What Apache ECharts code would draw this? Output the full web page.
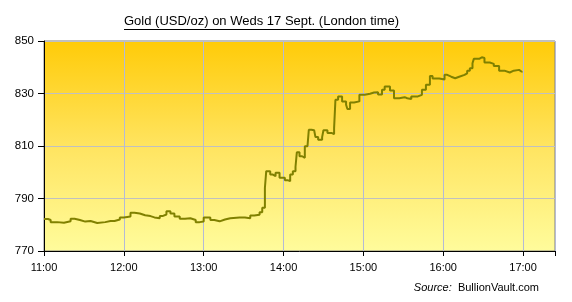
<!DOCTYPE html>
<html>
<head>
<meta charset="utf-8">
<script src="https://cdn.jsdelivr.net/npm/echarts@6/dist/echarts.min.js"></script>
<style>html,body{margin:0;padding:0;background:#fff}#c{width:572px;height:302px}</style>
</head>
<body>
<div id="c"></div>
<script>
// minutes after 11:00 (London time)
const minutes = [0,3,5,10,15,20,23,27,31,35,40,46,50,53,57,60,65,68,72,76,80,83,87,89,92,95,98,102,106,110,114,117,120,125,128,132,136,140,147,151,155,158,162,164,166,167,170,172,174,177,181,183,185,187,189,190,192,194,196,198,199,201,203,204,206,209,210,213,216,218,219,221,224,227,228,230,233,237,241,245,248,251,254,256,260,263,267,271,273,276,281,284,287,290,292,297,301,303,306,309,312,316,318,320,322,323,327,329,331,335,338,342,346,347,350,353,357,359];
const prices = [782.2,781.8,781.0,780.8,781.3,782.3,781.8,781.2,781.4,780.7,781.0,781.4,781.4,782.0,782.8,783.1,784.6,784.3,783.6,783.3,782.8,782.5,783.3,783.9,785.1,784.3,783.1,782.3,782.5,781.8,781.0,781.2,782.8,781.8,781.3,782.0,782.5,782.8,782.8,782.5,783.5,783.8,784.8,786.5,794.0,800.4,799.1,798.5,799.8,797.9,797.0,796.6,799.1,800.4,802.1,807.6,806.1,805.5,809.9,809.9,816.2,816.0,816.2,813.4,812.4,813.4,816.0,815.0,814.5,816.8,827.6,828.9,827.0,825.7,824.1,826.6,827.0,829.5,829.9,830.4,830.5,829.6,831.4,832.7,831.1,828.2,828.6,828.2,827.9,828.9,829.5,831.4,833.3,836.7,835.7,835.3,837.1,836.4,835.8,836.4,837.1,837.7,838.7,839.6,841.5,843.2,843.8,843.5,841.8,841.3,840.5,838.7,838.3,838.0,838.7,839.0,838.3,838.0];
const tickLabels = ['11:00','12:00','13:00','14:00','15:00','16:00','17:00'];
const titleText = 'Gold (USD/oz) on Weds 17 Sept. (London time)';
const sourceLabel = 'Source:';
const sourceName = 'BullionVault.com';

const data = minutes.map((m, i) => [m, prices[i]]);
const chart = echarts.init(document.getElementById('c'), null, {renderer: 'canvas'});
const FONT = 'Arial, "Liberation Sans", sans-serif';
chart.setOption({
  animation: false,
  title: {
    text: titleText,
    left: 124, top: 15, padding: 0,
    textStyle: {fontFamily: FONT, fontSize: 13, fontWeight: 'normal', color: '#000'}
  },
  graphic: [
    {type: 'line', shape: {x1: 124, y1: 29.5, x2: 400, y2: 29.5}, style: {stroke: '#000', lineWidth: 1}},
    {type: 'text', right: 33, top: 282, style: {
      text: '{i|' + sourceLabel + '}  ' + sourceName,
      font: '11px ' + FONT, fill: '#000',
      rich: {i: {fontStyle: 'italic', fontFamily: FONT, fontSize: 11, fill: '#000'}}
    }}
  ],
  grid: {
    left: 44, top: 41, right: 17, bottom: 51,
    show: true,
    borderColor: '#808080', borderWidth: 1,
    backgroundColor: new echarts.graphic.LinearGradient(0, 0, 0, 1, [
      {offset: 0, color: '#FFCB08'},
      {offset: 0.5, color: '#FFE460'},
      {offset: 1, color: '#FFFC9C'}
    ])
  },
  xAxis: {
    type: 'value', min: 0, max: 384, interval: 60,
    axisLine: {show: true, lineStyle: {color: '#000', width: 1}},
    axisTick: {show: true, length: 5, lineStyle: {color: '#000'}},
    splitLine: {show: true, lineStyle: {color: '#B4BAD6', width: 1}},
    axisLabel: {
      fontFamily: FONT, fontSize: 11, color: '#000', margin: 11,
      formatter: v => (v % 60 === 0 && tickLabels[v / 60]) ? tickLabels[v / 60] : ''
    }
  },
  yAxis: {
    type: 'value', min: 770, max: 850, interval: 20,
    axisLine: {show: true, lineStyle: {color: '#000', width: 1}},
    axisTick: {show: true, length: 6, lineStyle: {color: '#000'}},
    splitLine: {show: true, lineStyle: {color: '#C0C0C0', width: 1}},
    axisLabel: {fontFamily: FONT, fontSize: 11.5, color: '#000', margin: 10}
  },
  series: [{
    type: 'line', step: 'end', data: data,
    showSymbol: false, symbol: 'none',
    lineStyle: {color: '#808000', width: 2},
    itemStyle: {color: '#808000'}
  }]
});
</script>
</body>
</html>
